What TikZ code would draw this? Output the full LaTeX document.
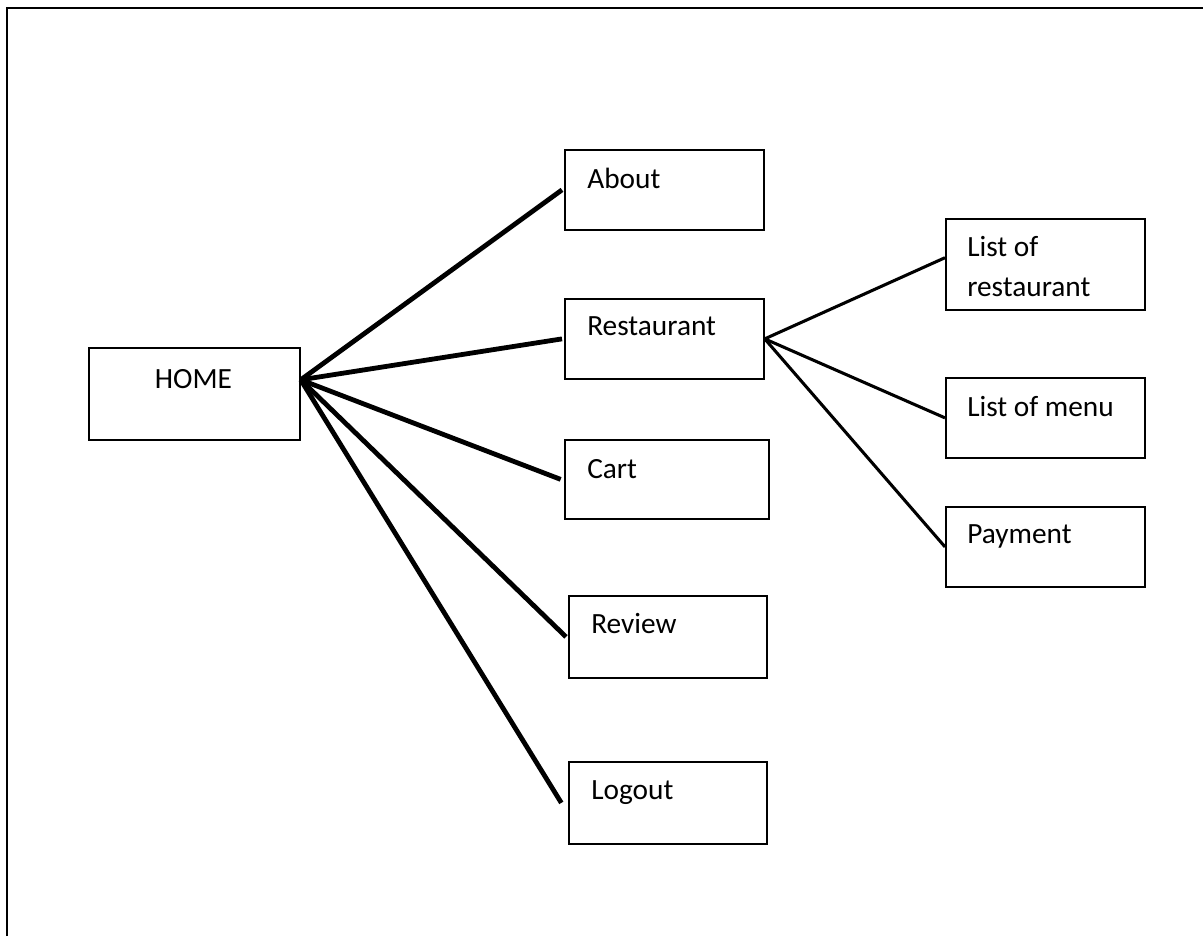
\documentclass[tikz,border=0pt]{standalone}
\usepackage{fontspec}
\setmainfont{Carlito}
\usetikzlibrary{calc}
\begin{document}
\begin{tikzpicture}[x=0.75pt,y=-0.75pt,
  box/.style={draw,rectangle,line width=1.3pt,inner sep=0pt,anchor=north west},
  txt/.style={anchor=base west,inner sep=0pt,font=\fontsize{22pt}{30pt}\selectfont},
  thick link/.style={line width=3.6pt},
  thin link/.style={line width=2.3pt}]
\useasboundingbox (0,0) rectangle (1203,936);
\draw[line width=1.6pt] (7,936) -- (7,8) -- (1203,8);
% boxes
\node[box,minimum width=158.25pt,minimum height=69pt] (home) at (88,347) {};
\node[box,minimum width=149.25pt,minimum height=60pt] (about) at (564,149) {};
\node[box,minimum width=149.25pt,minimum height=60pt] (rest) at (564,298) {};
\node[box,minimum width=153pt,minimum height=59.25pt] (cart) at (564,439) {};
\node[box,minimum width=148.5pt,minimum height=61.5pt] (review) at (568,595) {};
\node[box,minimum width=148.5pt,minimum height=61.5pt] (logout) at (568,761) {};
\node[box,minimum width=149.25pt,minimum height=68.25pt] (lor) at (945,218) {};
\node[box,minimum width=149.25pt,minimum height=60pt] (lom) at (945,377) {};
\node[box,minimum width=149.25pt,minimum height=60pt] (pay) at (945,506) {};
% texts
\node[txt,anchor=base] (thome) at (193.5,388) {HOME};
\node[txt] (tabout) at (587,188) {About};
\node[txt] (trest) at (587,335) {Restaurant};
\node[txt] (tcart) at (587,478) {Cart};
\node[txt] (treview) at (591,633) {Review};
\node[txt] (tlogout) at (591,799) {Logout};
\node[txt] (tlor1) at (967,256) {List of};
\node[txt] (tlor2) at (967,296) {restaurant};
\node[txt] (tlom) at (967,416) {List of menu};
\node[txt] (tpay) at (967,543) {Payment};
% connectors
\coordinate (hs) at ($(home.north east)!0.35!(home.south east)$);
\draw[thick link] (hs) -- ([xshift=-1.5pt]about.west);
\draw[thick link] (hs) -- ([xshift=-1.5pt]rest.west);
\draw[thick link] (hs) -- ([xshift=-2.5pt]cart.west);
\draw[thick link] (hs) -- ([xshift=-1.5pt]review.west);
\draw[thick link] (hs) -- ([xshift=-5pt]logout.west);
\draw[thin link] (rest.east) -- ([yshift=5pt]lor.west);
\draw[thin link] (rest.east) -- (lom.west);
\draw[thin link] (rest.east) -- (pay.west);
\end{tikzpicture}
\end{document}
